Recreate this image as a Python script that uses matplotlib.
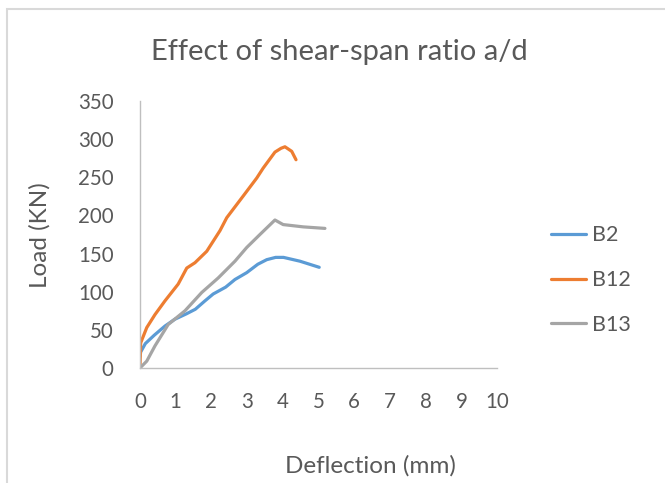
import matplotlib.pyplot as plt
from matplotlib.patches import Rectangle

# Load-deflection curves read from the test records
b2_defl = [0.0, 0.02, 0.15, 0.40, 0.70, 0.98, 1.30, 1.55, 1.82, 2.05, 2.40, 2.66, 2.99, 3.30, 3.55, 3.80, 4.02, 4.48, 5.02]
b2_load = [15, 21, 32, 43, 55, 64, 71, 77, 88, 97, 106, 116, 125, 136, 142, 145, 145, 140, 132]

b12_defl = [0.0, 0.02, 0.19, 0.42, 0.70, 1.07, 1.31, 1.54, 1.87, 2.24, 2.43, 2.90, 3.27, 3.45, 3.78, 3.95, 4.06, 4.25, 4.37]
b12_load = [0, 33, 53, 70, 88, 110, 131, 138, 153, 180, 197, 226, 249, 262, 283, 288, 290, 284, 273]

b13_defl = [0.0, 0.19, 0.42, 0.79, 1.26, 1.73, 2.19, 2.66, 2.99, 3.36, 3.78, 4.01, 4.57, 5.18]
b13_load = [0, 9, 29, 57, 75, 99, 118, 140, 158, 175, 194, 188, 185, 183]

series_names = ['B2', 'B12', 'B13']
series_colors = ['#5B9BD5', '#ED7D31', '#A5A5A5']

x_ticks = list(range(0, 11))
y_ticks = list(range(0, 351, 50))

plt.rcParams['font.family'] = ['Lato', 'DejaVu Sans']
text_color = '#595959'

fig = plt.figure(figsize=(6.65, 4.83), dpi=100)
ax = fig.add_axes([0.2105, 0.2381, 0.5369, 0.5528])

# light chart-area frame
fig.patches.append(Rectangle((6.5 / 665, -0.01), 1.05, 1 - 8.5 / 483 + 0.01,
                             transform=fig.transFigure, fill=False,
                             edgecolor='#D9D9D9', linewidth=1.5))

curves = [(b2_defl, b2_load), (b12_defl, b12_load), (b13_defl, b13_load)]
for (x, y), name, c in zip(curves, series_names, series_colors):
    ax.plot(x, y, color=c, linewidth=2.3, label=name, solid_capstyle='round',
            solid_joinstyle='round')

ax.set_xlim(0, 10)
ax.set_ylim(0, 350)
ax.set_xticks(x_ticks)
ax.set_yticks(y_ticks)
ax.tick_params(length=0, labelsize=14.8, colors=text_color)
ax.tick_params(axis='y', pad=19)
ax.tick_params(axis='x', pad=17)
for side in ['top', 'right']:
    ax.spines[side].set_visible(False)
for side in ['left', 'bottom']:
    ax.spines[side].set_color('#BFBFBF')
    ax.spines[side].set_linewidth(1.0)

fig.text(0.511, 0.893, 'Effect of shear-span ratio a/d', ha='center', va='center',
         fontsize=21, color=text_color)
fig.text(0.557, 0.035, 'Deflection (mm)', ha='center', va='center',
         fontsize=17.5, color=text_color)
fig.text(0.06, 0.513, 'Load (KN)', ha='center', va='center', rotation=90,
         fontsize=17.5, color=text_color)

fig.legend(loc='center left', bbox_to_anchor=(0.80, 0.42), frameon=False,
           fontsize=15.5, labelcolor=text_color, handlelength=1.6,
           handletextpad=0.3, labelspacing=1.15)

fig.savefig('out.png', dpi=100)
